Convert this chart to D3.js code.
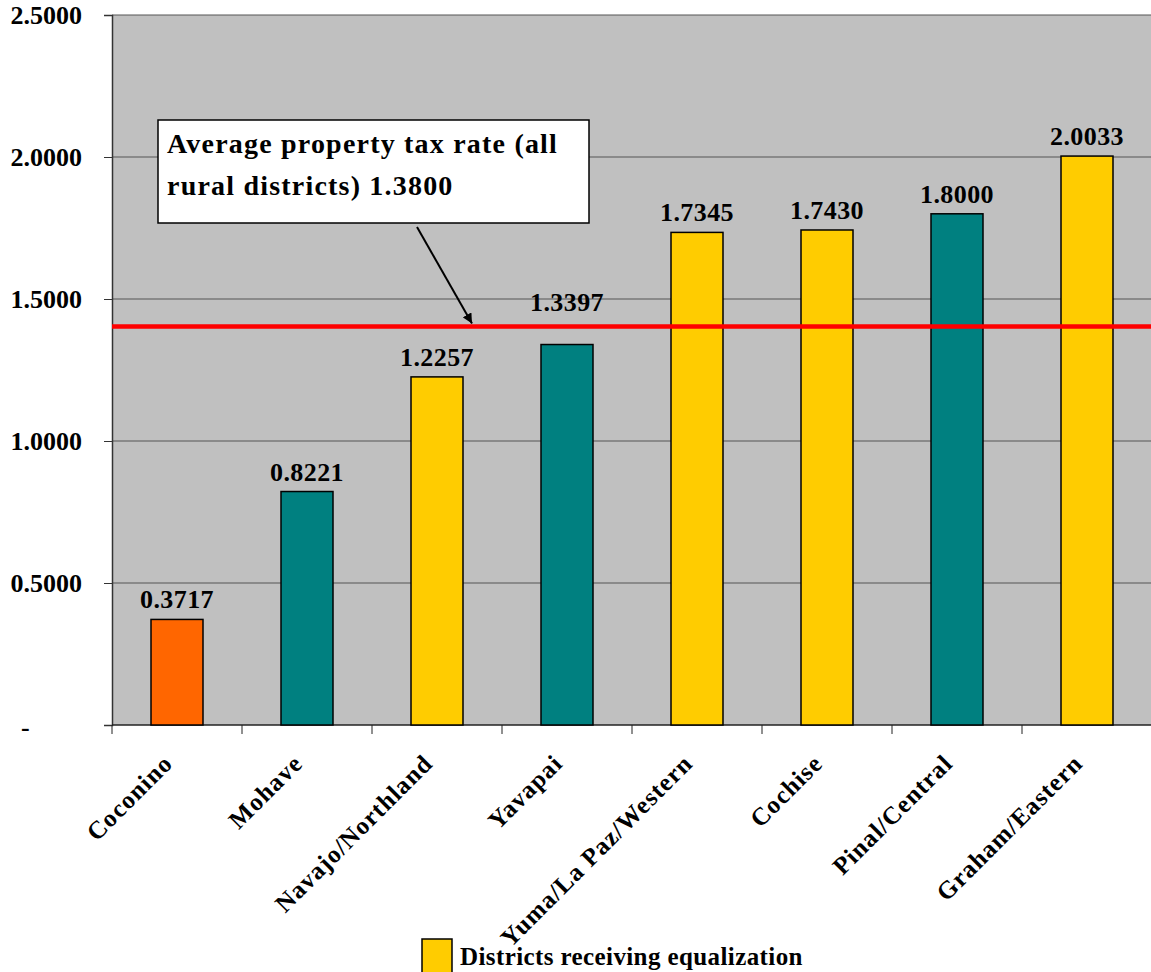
<!DOCTYPE html>
<html>
<head>
<meta charset="utf-8">
<script src="https://cdn.jsdelivr.net/npm/d3@7"></script>
<style>
  body { margin: 0; background: #fff; }
  text { font-family: "Liberation Serif", "Times New Roman", serif; font-weight: bold; fill: #000; }
</style>
</head>
<body>
<div id="chart"></div>
<script>
// dados
const districts = ["Coconino", "Mohave", "Navajo/Northland", "Yavapai", "Yuma/La Paz/Western", "Cochise", "Pinal/Central", "Graham/Eastern"];
const rates = [0.3717, 0.8221, 1.2257, 1.3397, 1.7345, 1.7430, 1.8000, 2.0033];
const groups = ["other", "teal", "equalized", "teal", "equalized", "equalized", "teal", "equalized"];
const yTicks = [0, 0.5, 1.0, 1.5, 2.0, 2.5];
const avgLineValue = 1.403; // onde a linha vermelha aparece no gráfico
const avgLabel = ["Average property tax rate (all", "rural districts) 1.3800"];
const legendLabel = "Districts receiving equalization";

const colors = { other: "#FF6600", teal: "#008080", equalized: "#FFCC00" };

const W = 1151, H = 972;
const margin = { top: 15, right: -1, bottom: 247, left: 112 };
const width = W - margin.left - margin.right;
const height = H - margin.top - margin.bottom;

const svg = d3.select("#chart").append("svg")
  .attr("width", W)
  .attr("height", H);

const g = svg.append("g")
  .attr("transform", `translate(${margin.left},${margin.top})`);

// escalas
const x = d3.scaleBand().domain(districts).range([0, width]).padding(0);
const y = d3.scaleLinear().domain([0, 2.5]).range([height, 0]);

// fundo
g.append("rect")
  .attr("width", width)
  .attr("height", height)
  .attr("fill", "#C0C0C0");

// linhas de grade
g.selectAll(".grid")
  .data(yTicks.filter(d => d > 0))
  .join("line")
  .attr("class", "grid")
  .attr("x1", 0).attr("x2", width)
  .attr("y1", d => y(d)).attr("y2", d => y(d))
  .attr("stroke", "#555")
  .attr("stroke-width", 1);

// eixo y
const yAxis = g.append("g")
  .call(d3.axisLeft(y)
    .tickValues(yTicks)
    .tickSize(8)
    .tickPadding(22)
    .tickFormat(d => d === 0 ? "-" : d3.format(".4f")(d)));
yAxis.select(".domain").attr("stroke", "#333").attr("stroke-width", 1.5);
yAxis.selectAll(".tick line").attr("stroke", "#333");
yAxis.selectAll(".tick text")
  .style("font-size", "26px")
  .style("font-family", "Liberation Serif, serif")
  .style("font-weight", "bold")
  .attr("fill", "#000");
yAxis.selectAll(".tick").filter(d => d === 0).select("text")
  .attr("text-anchor", "start")
  .attr("x", -91)
  .attr("dy", "0.4em");

// eixo x
const xAxis = g.append("g")
  .attr("transform", `translate(0,${height})`);
xAxis.append("line")
  .attr("x1", 0).attr("x2", width)
  .attr("stroke", "#222").attr("stroke-width", 1.5);
xAxis.selectAll(".xtick")
  .data(districts)
  .join("line")
  .attr("class", "xtick")
  .attr("x1", d => x(d)).attr("x2", d => x(d))
  .attr("y1", 0).attr("y2", 9)
  .attr("stroke", "#222");
xAxis.selectAll(".xlabel")
  .data(districts)
  .join("text")
  .attr("class", "xlabel")
  .attr("text-anchor", "end")
  .attr("transform", d => `translate(${x(d) + x.bandwidth() / 2 - 3},${40}) rotate(-45)`)
  .style("font-size", "25px")
  .style("letter-spacing", "1px")
  .text(d => d);

// barras
const barW = x.bandwidth() * 0.4;
const bars = districts.map((d, i) => ({ name: d, value: rates[i], group: groups[i] }));

g.selectAll(".bar")
  .data(bars)
  .join("rect")
  .attr("class", "bar")
  .attr("x", d => x(d.name) + (x.bandwidth() - barW) / 2)
  .attr("y", d => y(d.value))
  .attr("width", barW)
  .attr("height", d => height - y(d.value))
  .attr("fill", d => colors[d.group])
  .attr("stroke", "#000")
  .attr("stroke-width", 1.5);

// rótulos de valor (sobe acima da linha vermelha quando colidiria com ela)
const labelY = d => {
  const yy = y(d.value) - 11;
  const lineY = y(avgLineValue);
  return (yy > lineY - 16 && yy < lineY + 20) ? lineY - 16 : yy;
};
g.selectAll(".val")
  .data(bars)
  .join("text")
  .attr("class", "val")
  .attr("text-anchor", "middle")
  .attr("x", d => x(d.name) + x.bandwidth() / 2)
  .attr("y", labelY)
  .style("font-size", "26px")
  .style("letter-spacing", "0.4px")
  .text(d => d3.format(".4f")(d.value));

// linha vermelha da média
g.append("line")
  .attr("x1", 0).attr("x2", width)
  .attr("y1", y(avgLineValue)).attr("y2", y(avgLineValue))
  .attr("stroke", "#FF0000")
  .attr("stroke-width", 4.5);

// caixa de anotação
const box = g.append("g").attr("transform", "translate(46,105)");
box.append("rect")
  .attr("width", 431)
  .attr("height", 103)
  .attr("fill", "#fff")
  .attr("stroke", "#000")
  .attr("stroke-width", 1.5);
box.selectAll("text")
  .data(avgLabel)
  .join("text")
  .attr("x", 9)
  .attr("y", (d, i) => 33 + i * 42)
  .style("font-size", "28px")
  .style("letter-spacing", "1.2px")
  .text(d => d);

// seta
svg.append("defs").append("marker")
  .attr("id", "arrow")
  .attr("viewBox", "0 0 10 10")
  .attr("refX", 10).attr("refY", 5)
  .attr("markerWidth", 5).attr("markerHeight", 5)
  .attr("orient", "auto")
  .append("path")
  .attr("d", "M0,0 L10,5 L0,10 Z")
  .attr("fill", "#000");

const tipX = x("Navajo/Northland") + 100;
g.append("line")
  .attr("x1", tipX - 55).attr("y1", 212)
  .attr("x2", tipX).attr("y2", y(avgLineValue) - 3)
  .attr("stroke", "#000")
  .attr("stroke-width", 2)
  .attr("marker-end", "url(#arrow)");

// legenda
const legend = svg.append("g").attr("transform", "translate(422,939)");
legend.append("rect")
  .attr("width", 30)
  .attr("height", 36)
  .attr("fill", colors.equalized)
  .attr("stroke", "#000")
  .attr("stroke-width", 1.5);
legend.append("text")
  .attr("x", 38)
  .attr("y", 26)
  .style("font-size", "25px")
  .style("letter-spacing", "0.4px")
  .text(legendLabel);
</script>
</body>
</html>
